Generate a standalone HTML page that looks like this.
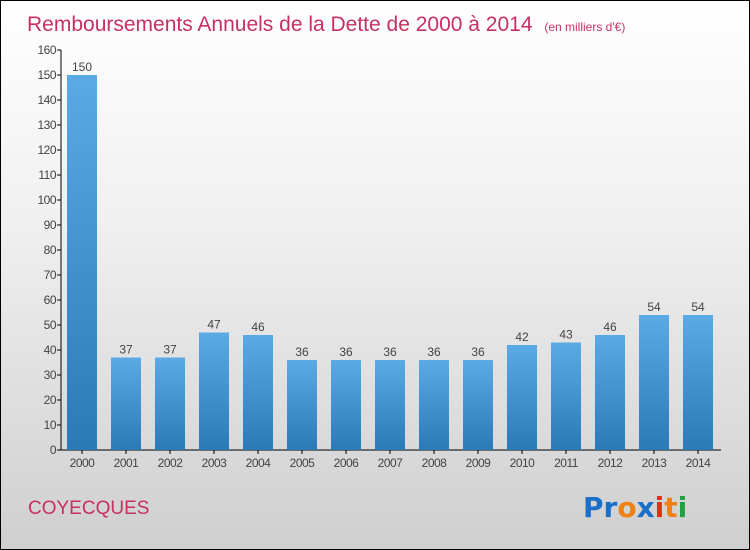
<!DOCTYPE html>
<html><head><meta charset="utf-8"><style>
body{margin:0}
#wrap{position:relative;width:748px;height:548px;border:1px solid #000;background:linear-gradient(#ffffff 0%,#f0f0f0 40%,#cfcfcf 100%);font-family:"Liberation Sans",sans-serif;overflow:hidden}
</style></head><body>
<div id="wrap">
<svg id="chart" width="748" height="548">
<defs><linearGradient id="bg" x1="0" y1="0" x2="0" y2="1"><stop offset="0" stop-color="#5aaae6"/><stop offset="1" stop-color="#2a7ab8"/></linearGradient></defs>
<text x="26" y="30" font-size="21" fill="#c8305f">Remboursements Annuels de la Dette de 2000 à 2014 <tspan font-size="12" dx="6">(en milliers d'€)</tspan></text>
<text x="27" y="513" font-size="19" fill="#c8305f">COYECQUES</text>
<g font-size="28" font-weight="bold" font-family="'DejaVu Sans',sans-serif">
<text x="582" y="516"><tspan fill="#1a6fc8">Pr</tspan><tspan fill="#f08010">o</tspan><tspan fill="#1a6fc8">x</tspan><tspan fill="#e03010">i</tspan><tspan fill="#f08010">t</tspan><tspan fill="#20a040">i</tspan></text></g>
<g id="axes"></g><g id="bars"></g>
</svg></div>
<script>
const years=["2000","2001","2002","2003","2004","2005","2006","2007","2008","2009","2010","2011","2012","2013","2014"];
const values=[150,37,37,47,46,36,36,36,36,36,42,43,46,54,54];
const ticks=[0,10,20,30,40,50,60,70,80,90,100,110,120,130,140,150,160];
const NS="http://www.w3.org/2000/svg";
function y(v){return 449-v*2.5;}
function x(i){return 81+i*44;}
function el(t,a,p){const e=document.createElementNS(NS,t);for(const k in a)e.setAttribute(k,a[k]);p.appendChild(e);return e;}
const ax=document.getElementById('axes'),bs=document.getElementById('bars');
const yl=el('line',{x1:60,y1:y(160),x2:60,y2:y(0),stroke:'#000'},ax);


const xl=el('line',{x1:60,y1:y(0),x2:720,y2:y(0),stroke:'#000'},ax);


ticks.forEach(t=>{
 el('line',{x1:56,y1:y(t),x2:60,y2:y(t),stroke:'#000'},ax);
 const tx=el('text',{x:55,y:y(t)+4,'font-size':12,fill:'#444','text-anchor':'end','letter-spacing':'-0.5'},ax);
 tx.textContent=t;
 
 
});
years.forEach((yr,i)=>{
 const r=el('rect',{x:x(i)-15,y:y(values[i]),width:30,height:values[i]*2.5,fill:'url(#bg)'},bs);
 
 
 const v=el('text',{x:x(i),y:y(values[i])-4,'font-size':12,fill:'#444','text-anchor':'middle'},bs);
 v.textContent=values[i];
 
 
 el('line',{x1:x(i),y1:y(0),x2:x(i),y2:y(0)+4,stroke:'#000'},ax);
 const l=el('text',{x:x(i),y:466,'font-size':12,fill:'#444','text-anchor':'middle','letter-spacing':'-0.5'},ax);
 l.textContent=yr;
 
 
});
</script>
</body></html>
